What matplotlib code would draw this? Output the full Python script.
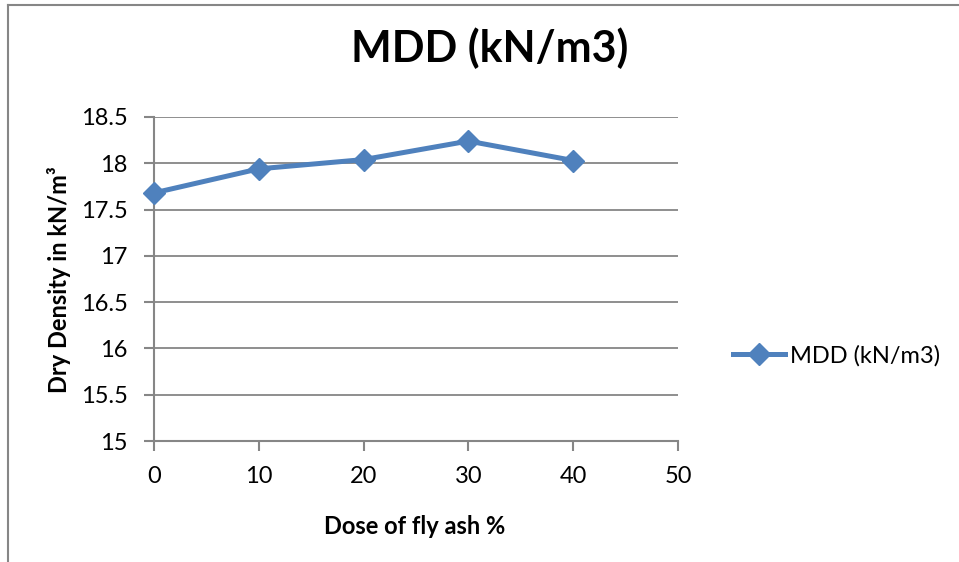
import matplotlib
matplotlib.use('Agg')
import matplotlib.pyplot as plt
from matplotlib.lines import Line2D

# data
dose = [0, 10, 20, 30, 40]
mdd = [17.68, 17.94, 18.04, 18.24, 18.03]
y_ticks = [15, 15.5, 16, 16.5, 17, 17.5, 18, 18.5]
y_tick_labels = ['15', '15.5', '16', '16.5', '17', '17.5', '18', '18.5']
x_ticks = [0, 10, 20, 30, 40, 50]

plt.rcParams['font.family'] = ['Lato', 'DejaVu Sans']

BLUE = '#4F81BD'
GREY = '#868686'
W, H = 959, 562

fig = plt.figure(figsize=(W / 100, H / 100), dpi=100)
ax = fig.add_axes([154 / W, 1 - 441 / H, (678 - 154) / W, (441 - 117) / H])

ax.plot(dose, mdd, color=BLUE, linewidth=3.6, marker='D', markersize=11,
        markerfacecolor=BLUE, markeredgecolor=BLUE, solid_joinstyle='round',
        clip_on=False, zorder=3)

ax.set_xlim(0, 50)
ax.set_ylim(15, 18.5)
ax.set_xticks(x_ticks)
ax.set_yticks(y_ticks)
ax.set_yticklabels(y_tick_labels)
ax.tick_params(axis='both', labelsize=17, color=GREY, width=1.5, length=7,
               direction='out')
ax.tick_params(axis='x', pad=11)
ax.tick_params(axis='y', pad=12)
ax.grid(axis='y', color=GREY, linewidth=1.3)
ax.set_axisbelow(True)
for side in ['top', 'right']:
    ax.spines[side].set_visible(False)
for side in ['left', 'bottom']:
    ax.spines[side].set_color(GREY)
    ax.spines[side].set_linewidth(1.5)

# axis titles and chart title
fig.text(415 / W, 1 - 527 / H, 'Dose of fly ash %', fontsize=17, fontweight='bold',
         ha='center', va='center')
fig.text(59 / W, 1 - 280 / H, 'Dry Density in kN/m³', fontsize=17, fontweight='bold',
         ha='center', va='center', rotation=90)
fig.text(490 / W, 1 - 62 / H, 'MDD (kN/m3)', fontsize=31, fontweight='bold',
         ha='center', va='baseline')

handle = Line2D([], [], color=BLUE, linewidth=3.6, marker='D', markersize=11)
fig.legend([handle], ['MDD (kN/m3)'], loc='center left',
           bbox_to_anchor=(712 / W, 1 - 356 / H), frameon=False,
           fontsize=17, handlelength=2.2, handletextpad=0.2)

# chart-area border, only left and top edges visible
fig.add_artist(Line2D([8 / W, 8 / W], [0, 1 - 5 / H], transform=fig.transFigure,
                      color=GREY, linewidth=1.5))
fig.add_artist(Line2D([8 / W, 1], [1 - 5 / H, 1 - 5 / H], transform=fig.transFigure,
                      color=GREY, linewidth=1.5))

plt.savefig('out.png', dpi=100)
